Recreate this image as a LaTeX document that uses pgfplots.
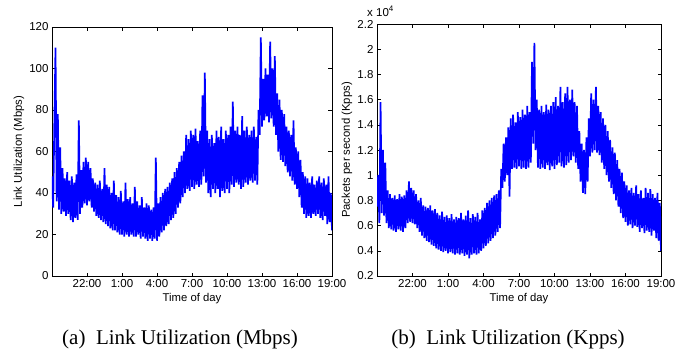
\documentclass[border=0pt]{standalone}
\usepackage{fontspec}
\setmainfont{Liberation Serif}
\newfontfamily\hv{Liberation Sans}
\usepackage{pgfplots}
\pgfplotsset{compat=1.18}
\definecolor{mblue}{RGB}{0,0,255}
\begin{document}
\begin{tikzpicture}
\useasboundingbox (0pt,0pt) rectangle (689pt,-349pt);
\pgfplotsset{
  every axis/.append style={
    scale only axis,
    font=\hv\fontsize{11.3}{13}\selectfont,
    /pgf/number format/assume math mode=true,
    tick align=inside,
    major tick length=3.5pt,
    axis line style={line width=0.8pt},
    every tick/.style={black,line width=0.6pt},
    tick label style={font=\hv\fontsize{11.5}{13}\selectfont},
    xmin=0, xmax=24,
    xtick={3,6,...,24},
    xticklabels={22:00,1:00,4:00,7:00,10:00,13:00,16:00,19:00},
    xlabel={Time of day},
  },
  every axis plot/.append style={mblue, line width=1.7pt, line join=bevel, no markers},
}
% ---------- (a) Mbps ----------
\begin{axis}[
  at={(52pt,-276pt)}, anchor=south west,
  width=280pt, height=249pt,
  ymin=0, ymax=120, ytick={0,20,...,120},
  ylabel={Link Utilization (Mbps)},
  ylabel style={at={(axis description cs:-0.118,0.5)}, anchor=center},
  xlabel style={at={(axis description cs:0.5,-0.092)}, anchor=center},
]
\addplot coordinates {
(0.0,48) (0.1,33) (0.2,73) (0.3,110) (0.4,36) (0.5,78) (0.6,32) (0.7,62) (0.8,30) (0.9,52)
(1.0,31) (1.1,47) (1.2,29) (1.3,50) (1.4,30) (1.5,46) (1.6,27) (1.7,48) (1.8,26) (1.9,45)
(2.0,28) (2.1,49) (2.2,27) (2.3,75) (2.4,30) (2.5,51) (2.6,33) (2.7,55) (2.8,35) (2.9,57)
(3.0,34) (3.1,55) (3.2,36) (3.3,52) (3.4,33) (3.5,47) (3.6,31) (3.7,45) (3.8,29) (3.9,44)
(4.0,28) (4.1,46) (4.2,27) (4.3,42) (4.4,26) (4.5,52) (4.6,25) (4.7,44) (4.8,24) (4.9,43)
(5.0,23) (5.1,40) (5.2,22) (5.3,46) (5.4,22) (5.5,39) (5.6,21) (5.7,38) (5.8,20) (5.9,41)
(6.0,20) (6.1,36) (6.2,19) (6.3,45) (6.4,20) (6.5,37) (6.6,19) (6.7,38) (6.8,20) (6.9,35)
(7.0,19) (7.1,43) (7.2,19) (7.3,36) (7.4,20) (7.5,34) (7.6,18) (7.7,38) (7.8,19) (7.9,33)
(8.0,18) (8.1,35) (8.2,17) (8.3,34) (8.4,18) (8.5,32) (8.6,17) (8.7,33) (8.8,18) (8.9,57)
(9.0,17) (9.1,35) (9.2,19) (9.3,38) (9.4,21) (9.5,40) (9.6,22) (9.7,42) (9.8,24) (9.9,43)
(10.0,25) (10.1,45) (10.2,27) (10.3,47) (10.4,28) (10.5,50) (10.6,30) (10.7,52) (10.8,33) (10.9,55)
(11.0,35) (11.1,58) (11.2,38) (11.3,60) (11.4,40) (11.5,68) (11.6,42) (11.7,66) (11.8,41) (11.9,70)
(12.0,43) (12.1,68) (12.2,42) (12.3,71) (12.4,44) (12.5,65) (12.6,43) (12.7,70) (12.8,44) (12.9,87)
(13.0,48) (13.1,98) (13.2,45) (13.3,70) (13.4,40) (13.5,66) (13.6,38) (13.7,68) (13.8,42) (13.9,64)
(14.0,40) (14.1,70) (14.2,42) (14.3,67) (14.4,38) (14.5,72) (14.6,41) (14.7,66) (14.8,40) (14.9,70)
(15.0,42) (15.1,68) (15.2,40) (15.3,72) (15.4,44) (15.5,84) (15.6,43) (15.7,70) (15.8,45) (15.9,72)
(16.0,44) (16.1,68) (16.2,42) (16.3,77) (16.4,43) (16.5,70) (16.6,45) (16.7,72) (16.8,44) (16.9,68)
(17.0,46) (17.1,70) (17.2,45) (17.3,72) (17.4,46) (17.5,67) (17.6,44) (17.7,80) (17.8,68) (17.9,115)
(18.0,72) (18.1,95) (18.2,75) (18.3,100) (18.4,77) (18.5,97) (18.6,74) (18.7,113) (18.8,76) (18.9,100)
(19.0,72) (19.1,106) (19.2,68) (19.3,88) (19.4,60) (19.5,85) (19.6,56) (19.7,80) (19.8,55) (19.9,78)
(20.0,53) (20.1,72) (20.2,50) (20.3,70) (20.4,48) (20.5,68) (20.6,46) (20.7,75) (20.8,44) (20.9,62)
(21.0,42) (21.1,60) (21.2,38) (21.3,56) (21.4,33) (21.5,50) (21.6,30) (21.7,48) (21.8,28) (21.9,47)
(22.0,29) (22.1,45) (22.2,28) (22.3,48) (22.4,30) (22.5,44) (22.6,29) (22.7,46) (22.8,30) (22.9,48)
(23.0,28) (23.1,45) (23.2,27) (23.3,47) (23.4,29) (23.5,44) (23.6,25) (23.7,48) (23.8,26) (23.9,40)
(24.0,22)
};
\end{axis}
% ---------- (b) Kpps ----------
\begin{axis}[
  at={(377pt,-276pt)}, anchor=south west,
  width=284pt, height=252pt,
  ymin=0.2, ymax=2.2, ytick={0.2,0.4,...,2.2},
  yticklabels={0.2,0.4,0.6,0.8,1,1.2,1.4,1.6,1.8,2,2.2},
  ylabel={Packets per second (Kpps)},
  ylabel style={at={(axis description cs:-0.106,0.5)}, anchor=center},
  xlabel style={at={(axis description cs:0.5,-0.091)}, anchor=center},
]
\addplot coordinates {
(0.0,0.75) (0.1,1.00) (0.2,0.62) (0.3,1.58) (0.4,0.70) (0.5,1.20) (0.6,0.68) (0.7,1.10) (0.8,0.62) (0.9,0.88)
(1.0,0.58) (1.1,0.85) (1.2,0.57) (1.3,0.82) (1.4,0.56) (1.5,0.84) (1.6,0.55) (1.7,0.81) (1.8,0.57) (1.9,0.85)
(2.0,0.56) (2.1,0.83) (2.2,0.55) (2.3,0.84) (2.4,0.58) (2.5,0.88) (2.6,0.62) (2.7,0.95) (2.8,0.63) (2.9,0.90)
(3.0,0.62) (3.1,0.88) (3.2,0.61) (3.3,0.85) (3.4,0.58) (3.5,0.80) (3.6,0.55) (3.7,0.82) (3.8,0.52) (3.9,0.76)
(4.0,0.50) (4.1,0.75) (4.2,0.48) (4.3,0.74) (4.4,0.47) (4.5,0.76) (4.6,0.45) (4.7,0.72) (4.8,0.44) (4.9,0.73)
(5.0,0.42) (5.1,0.70) (5.2,0.41) (5.3,0.68) (5.4,0.40) (5.5,0.71) (5.6,0.39) (5.7,0.67) (5.8,0.40) (5.9,0.68)
(6.0,0.38) (6.1,0.66) (6.2,0.39) (6.3,0.69) (6.4,0.38) (6.5,0.65) (6.6,0.37) (6.7,0.67) (6.8,0.38) (6.9,0.66)
(7.0,0.37) (7.1,0.70) (7.2,0.38) (7.3,0.65) (7.4,0.36) (7.5,0.68) (7.6,0.37) (7.7,0.72) (7.8,0.34) (7.9,0.66)
(8.0,0.37) (8.1,0.69) (8.2,0.38) (8.3,0.67) (8.4,0.37) (8.5,0.70) (8.6,0.38) (8.7,0.65) (8.8,0.40) (8.9,0.72)
(9.0,0.42) (9.1,0.74) (9.2,0.44) (9.3,0.78) (9.4,0.46) (9.5,0.80) (9.6,0.48) (9.7,0.82) (9.8,0.50) (9.9,0.84)
(10.0,0.52) (10.1,0.85) (10.2,0.55) (10.3,0.88) (10.4,0.58) (10.5,1.05) (10.6,0.90) (10.7,1.25) (10.8,0.95) (10.9,1.30)
(11.0,1.00) (11.1,1.38) (11.2,0.83) (11.3,1.45) (11.4,1.05) (11.5,1.48) (11.6,1.06) (11.7,1.42) (11.8,1.05) (11.9,1.50)
(12.0,1.07) (12.1,1.46) (12.2,1.05) (12.3,1.52) (12.4,1.06) (12.5,1.48) (12.6,1.05) (12.7,1.55) (12.8,1.06) (12.9,1.50)
(13.0,1.10) (13.1,1.90) (13.2,1.25) (13.3,2.05) (13.4,1.20) (13.5,1.60) (13.6,1.06) (13.7,1.52) (13.8,1.05) (13.9,1.55)
(14.0,1.06) (14.1,1.50) (14.2,1.05) (14.3,1.56) (14.4,1.08) (14.5,1.52) (14.6,1.04) (14.7,1.55) (14.8,1.07) (14.9,1.58)
(15.0,1.05) (15.1,1.62) (15.2,1.08) (15.3,1.55) (15.4,1.10) (15.5,1.70) (15.6,1.07) (15.7,1.58) (15.8,1.06) (15.9,1.65)
(16.0,1.08) (16.1,1.70) (16.2,1.10) (16.3,1.60) (16.4,1.12) (16.5,1.68) (16.6,1.15) (16.7,1.58) (16.8,1.10) (16.9,1.55)
(17.0,1.05) (17.1,1.35) (17.2,0.95) (17.3,1.25) (17.4,0.86) (17.5,1.20) (17.6,0.85) (17.7,1.30) (17.8,0.95) (17.9,1.45)
(18.0,1.15) (18.1,1.65) (18.2,1.18) (18.3,1.60) (18.4,1.20) (18.5,1.70) (18.6,1.18) (18.7,1.55) (18.8,1.16) (18.9,1.50)
(19.0,1.10) (19.1,1.45) (19.2,1.05) (19.3,1.40) (19.4,1.00) (19.5,1.35) (19.6,0.95) (19.7,1.28) (19.8,0.90) (19.9,1.22)
(20.0,0.85) (20.1,1.18) (20.2,0.80) (20.3,1.12) (20.4,0.75) (20.5,1.05) (20.6,0.70) (20.7,1.02) (20.8,0.66) (20.9,0.95)
(21.0,0.63) (21.1,0.92) (21.2,0.60) (21.3,0.88) (21.4,0.61) (21.5,0.90) (21.6,0.58) (21.7,0.86) (21.8,0.60) (21.9,0.92)
(22.0,0.59) (22.1,0.85) (22.2,0.55) (22.3,0.88) (22.4,0.58) (22.5,0.82) (22.6,0.54) (22.7,0.90) (22.8,0.56) (22.9,0.86)
(23.0,0.55) (23.1,0.89) (23.2,0.52) (23.3,0.85) (23.4,0.56) (23.5,0.82) (23.6,0.50) (23.7,0.86) (23.8,0.48) (23.9,0.78)
(24.0,0.40)
};
\end{axis}
\node[anchor=base west, font=\hv\fontsize{11.5}{13}\selectfont, inner sep=0pt] at (367pt,-16pt) {x 10\textsuperscript{4}};
\node[anchor=base, font=\fontsize{21}{24}\selectfont, inner sep=0pt] at (180pt,-344pt) {(a)\enspace Link Utilization (Mbps)};
\node[anchor=base, font=\fontsize{21}{24}\selectfont, inner sep=0pt] at (508pt,-344pt) {(b)\enspace Link Utilization (Kpps)};
\end{tikzpicture}
\end{document}
